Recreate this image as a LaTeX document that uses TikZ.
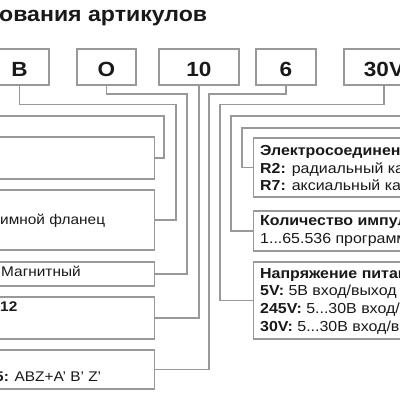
\documentclass[tikz,border=0pt]{standalone}
\usepackage{fontspec}
\setmainfont[FakeStretch=1.1]{Liberation Sans}
\begin{document}
\begin{tikzpicture}[x=1pt,y=-1pt,
  line/.style={draw=black!40, line width=1.05pt},
  topbox/.style={line, rectangle, minimum height=36pt, inner sep=0pt,
    font=\fontsize{20.5}{24}\selectfont\bfseries, text height=18pt, text depth=0pt, text=black!90},
  sidebox/.style={line, rectangle, inner sep=0pt, minimum width=260pt},
  conn/.style={draw=black!40, line width=1.05pt},
  txt/.style={inner sep=0pt, anchor=base west, font=\fontsize{14}{17}\selectfont, text=black!90},
  rtxt/.style={txt, font=\fontsize{14.5}{17}\selectfont},
  ttl/.style={inner sep=0pt, anchor=base west, font=\fontsize{21}{25}\selectfont\bfseries, text=black!90}]
\useasboundingbox (0,0) rectangle (400,400);
\clip (0,0) rectangle (400,400);
\fill[white] (0,0) rectangle (400,400);

% title
\node[ttl] (title) at (-1,21) {ования артикулов};

% top boxes
\node[topbox, minimum width=59pt] (b) at (19.5,67) {B};
\node[topbox, minimum width=59pt] (o) at (106.5,67) {O};
\node[topbox, minimum width=80pt] (ten) at (199,67) {10};
\node[topbox, minimum width=60pt] (six) at (286,67) {6};
\node[topbox, minimum width=80pt] (v30) at (384,67) {30V};

% left boxes (right edge at x=155)
\node[sidebox, minimum height=42pt, anchor=east] (l1) at (155,158) {};
\node[sidebox, minimum height=60pt, anchor=east] (l2) at (155,220) {};
\node[sidebox, minimum height=24pt, anchor=east] (l3) at (155,274) {};
\node[sidebox, minimum height=42pt, anchor=east] (l4) at (155,318) {};
\node[sidebox, minimum height=39pt, anchor=east] (l5) at (155,369.5) {};

% right boxes (left edge at x=253)
\node[sidebox, minimum height=59pt, anchor=west] (r1) at (253,167.5) {};
\node[sidebox, minimum height=40pt, anchor=west] (r2) at (253,231) {};
\node[sidebox, minimum height=77pt, anchor=west] (r3) at (253,300.5) {};

% left texts
\node[txt] (t21) at (0,224) {имной фланец};
\node[txt] (t31) at (1,276) {Магнитный};
\node[txt] (t41) at (0,311) {\bfseries 12};
\node[txt] (t51) at (-5,381) {\bfseries 5:\mdseries{} ABZ+A' B' Z'};

% right texts
\node[rtxt] (r11) at (260,155) {\bfseries Электросоединение};
\node[rtxt] (r12) at (260,173) {\bfseries R2:\mdseries{} радиальный кабель};
\node[rtxt] (r13) at (260,190) {\bfseries R7:\mdseries{} аксиальный кабель};
\node[rtxt] (r21) at (260,225) {\bfseries Количество импульсов};
\node[rtxt] (r22) at (260,243) {1...65.536 программируемых};
\node[rtxt] (r31) at (260,278) {\bfseries Напряжение питания};
\node[rtxt] (r32) at (260,295) {\bfseries 5V:\mdseries{} 5В вход/выход TTL};
\node[rtxt] (r33) at (260,313) {\bfseries 245V:\mdseries{} 5...30В вход/выход TTL};
\node[rtxt] (r34) at (260,331) {\bfseries 30V:\mdseries{} 5...30В вход/выход HTL};

% free ends off the picture
\coordinate (inl) at (-5,116);
\coordinate (inr1) at (405,128);
\coordinate (inr2) at (405,116);

% connectors
\draw[conn] (b.south) |- (176,104.5) |- (l2.east);
\draw[conn] (o.south) |- (187,94) |- (l3.east);
\draw[conn] (ten.south) |- (l4.east);
\draw[conn] (six.south) |- (209,94) |- (l5.east);
\draw[conn] (v30.south) |- (220,104.5) |- (r3.west);
\draw[conn] (inl) -| (164,158) -- (l1.east);
\draw[conn] (inr1) -| (242,167.5) -- (r1.west);
\draw[conn] (inr2) -| (231,231) -- (r2.west);
\end{tikzpicture}
\end{document}
